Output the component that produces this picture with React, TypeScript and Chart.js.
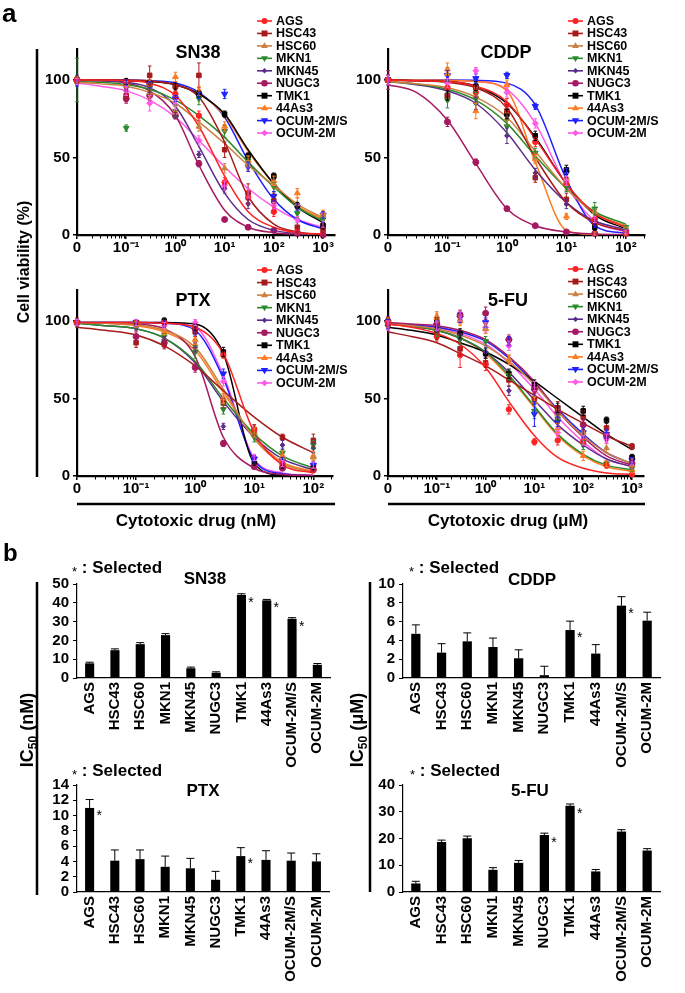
import React, { useEffect, useRef } from 'react';
import { Chart, registerables } from 'chart.js';

Chart.register(...registerables);

const PAGE_W = 685;
const PAGE_H = 993;
const FONT = "'Liberation Sans', Arial, Helvetica, sans-serif";
Chart.defaults.font.family = FONT;

// ---------------- shared categories / styles ----------------
const CELL_LINES = ['AGS', 'HSC43', 'HSC60', 'MKN1', 'MKN45', 'NUGC3', 'TMK1', '44As3', 'OCUM-2M/S', 'OCUM-2M'];
const LINE_COLORS = ['#FF2222', '#A61C1C', '#CC8040', '#2B8A2B', '#5C2C8C', '#A51A60', '#000000', '#FF7B22', '#2020FF', '#FF5AE8'];
const MARKER_STYLES = ['circle', 'rect', 'triangle', 'triangleDown', 'diamond', 'circle', 'rect', 'triangle', 'triangleDown', 'diamond'];
const MARKER_SIZES = [2.7, 3.2, 3.3, 3.3, 2.4, 3.0, 3.2, 3.4, 3.6, 3.0];

// x axis: the "0" dose is drawn at the 10^-2 position of the log axis
const ZERO_DOSE_POS = 0.01;
const XTICK_VALUES = [0.01, 0.1, 1, 10, 100, 1000];
const XTICK_LABELS = ['0', '10⁻¹', '10⁰', '10¹', '10²', '10³'];
const Y_TICKS_CURVE = [0, 50, 100];

// ---------------- SN38 (nM) ----------------
const CURVE_X_SN38 = [0.01, 0.03, 0.1, 0.3, 1, 3, 10, 30, 100, 300, 1000];
const CURVE_SN38 = [
  [100, 100, 99.5, 98, 90, 70, 38, 15, 5, 1.5, 0.5],
  [100, 100, 100, 99.5, 97, 89, 60, 25, 7, 2, 0.5],
  [98.5, 97.5, 96, 92, 85, 73, 59, 45, 32, 20, 11],
  [99, 98.5, 97, 94, 87, 77, 63, 47, 31, 18, 9],
  [100, 99.5, 98.5, 95, 83, 57, 27, 10, 3, 1, 0.3],
  [100, 99.5, 98, 93, 77, 45, 16, 5, 1.5, 0.5, 0.2],
  [100, 100, 99.5, 99, 97, 91, 78, 55, 33, 18, 8],
  [100, 100, 99.5, 99, 97, 91, 77, 54, 33, 19, 10],
  [100, 100, 100, 99.5, 98, 92, 76, 48, 23, 10, 4],
  [98, 96, 93, 87, 76, 61, 44, 30, 18, 10, 5],
];
const DOSE_SN38 = [0, 0.1, 0.3, 1, 3, 10, 30, 100, 300, 1000];
const POINTS_SN38 = [
  [100, 99, 97, 91, 77, 34, 24, 15, 2, 1],
  [100, 90, 103, 96, 103, 55, 27, 22, 5, 3],
  [99, 97, 92, 79, 70, 43, 45, 33, 20, 13],
  [100, 69, 95, 80, 88, 67, 48, 31, 14, 10],
  [100, 95, 95, 77, 52, 30, 20, 3, 1, 1],
  [100, 88, 90, 77, 46, 10, 5, 3, 1, 0],
  [100, 99, 98, 96, 91, 78, 51, 38, 19, 6],
  [100, 97, 98, 102, 93, 70, 48, 35, 27, 14],
  [98, 98, 97, 88, 90, 91, 44, 25, 18, 13],
  [99, 93, 85, 84, 61, 32, 27, 19, 10, 7],
];
const ERR_SN38 = [
  [2, 2, 2, 3, 3, 3, 4, 3, 1, 1],
  [2, 4, 6, 3, 8, 5, 6, 5, 3, 2],
  [2, 2, 3, 4, 3, 3, 3, 3, 4, 2],
  [14, 2, 3, 4, 4, 4, 3, 3, 3, 2],
  [3, 2, 3, 2, 2, 3, 3, 1, 1, 1],
  [2, 3, 3, 2, 2, 1, 1, 1, 1, 1],
  [2, 2, 2, 2, 2, 2, 2, 2, 2, 2],
  [2, 2, 2, 3, 3, 3, 3, 3, 3, 2],
  [2, 2, 2, 2, 2, 3, 3, 3, 2, 2],
  [2, 3, 5, 3, 3, 3, 3, 2, 2, 2],
];

// ---------------- CDDP (µM) ----------------
const CURVE_X_CDDP = [0.01, 0.03, 0.1, 0.3, 1, 3, 10, 30, 100];
const CURVE_CDDP = [
  [100, 99.5, 99, 96, 86, 62, 33, 14, 5],
  [100, 99.5, 98.5, 95, 82, 50, 21, 8, 2.5],
  [99, 97.5, 95, 89, 76, 54, 30, 14, 6],
  [99, 97.5, 94, 87, 72, 51, 30, 15, 7],
  [99, 97, 93, 85, 66, 42, 21, 9, 3.5],
  [97, 92, 74, 46, 17, 6, 2, 0.7, 0.2],
  [100, 99.5, 99, 96, 85, 63, 33, 13, 4],
  [100, 100, 99.8, 99, 93, 47, 3, 0.3, 0],
  [100, 100, 100, 99.8, 98, 84, 36, 6, 1],
  [100, 100, 99.8, 99, 94, 72, 32, 9, 2],
];
const DOSE_CDDP = [0, 0.1, 0.3, 1, 3, 10, 30, 100];
const POINTS_CDDP = [
  [100, 95, 92, 84, 60, 33, 10, 2],
  [100, 90, 95, 80, 37, 23, 8, 1],
  [100, 104, 90, 75, 50, 37, 15, 5],
  [100, 87, 88, 70, 53, 31, 17, 5],
  [100, 95, 85, 64, 40, 20, 8, 2],
  [100, 73, 47, 17, 6, 2, 1, 1],
  [100, 90, 96, 78, 64, 42, 5, 2],
  [100, 107, 80, 97, 49, 12, 1, 1],
  [100, 103, 101, 103, 83, 40, 7, 2],
  [100, 98, 106, 92, 72, 35, 10, 2],
];
const ERR_CDDP = [
  [3, 4, 3, 4, 3, 4, 2, 1],
  [3, 3, 3, 4, 3, 4, 2, 1],
  [3, 4, 5, 4, 3, 3, 2, 1],
  [3, 5, 4, 5, 3, 3, 4, 1],
  [3, 4, 4, 5, 3, 3, 2, 1],
  [6, 3, 2, 1, 1, 1, 1, 1],
  [3, 3, 3, 3, 3, 3, 2, 1],
  [3, 4, 5, 3, 3, 2, 1, 1],
  [3, 3, 3, 2, 2, 3, 2, 1],
  [3, 3, 2, 3, 3, 3, 2, 1],
];

// ---------------- PTX (nM) ----------------
const CURVE_X_PTX = [0.01, 0.03, 0.1, 0.3, 1, 3, 10, 30, 100];
const CURVE_PTX = [
  [99, 99, 99, 98.5, 96, 79, 28, 7, 2],
  [96, 94, 91, 84, 71, 55, 38, 25, 15],
  [99, 98.5, 97.5, 94, 83, 56, 24, 8, 2.5],
  [98.5, 97, 95, 89, 74, 50, 27, 13, 5],
  [98.5, 97, 95, 89, 73, 48, 25, 11, 4],
  [98.5, 98.5, 98, 95, 77, 25, 5, 1, 0.3],
  [99, 99, 99, 99, 98, 79, 8, 0.5, 0],
  [99, 98.5, 97, 93, 81, 54, 25, 9, 3],
  [99, 99, 99, 98.5, 94, 63, 10, 1.5, 0.3],
  [99, 99, 99, 99, 96, 65, 11, 2, 0.3],
];
const DOSE_PTX = [0, 0.1, 0.3, 1, 3, 10, 30, 100];
const POINTS_PTX = [
  [99, 99, 99, 96, 78, 30, 8, 4],
  [99, 86, 85, 93, 47, 30, 25, 23],
  [99, 98, 95, 85, 50, 28, 12, 12],
  [99, 97, 90, 80, 43, 25, 15, 20],
  [99, 96, 88, 83, 32, 28, 20, 18],
  [99, 90, 86, 70, 21, 6, 5, 4],
  [99, 99, 100, 96, 80, 8, 6, 5],
  [99, 98, 93, 88, 50, 28, 13, 13],
  [99, 99, 98, 94, 66, 11, 10, 7],
  [99, 99, 97, 99, 61, 12, 8, 7],
];
const ERR_PTX = [
  [2, 1, 1, 2, 2, 3, 2, 2],
  [3, 3, 3, 3, 3, 3, 2, 4],
  [2, 2, 2, 3, 3, 3, 2, 3],
  [2, 2, 2, 4, 3, 3, 3, 3],
  [2, 2, 2, 3, 2, 3, 3, 3],
  [2, 3, 3, 3, 2, 1, 1, 1],
  [2, 1, 2, 2, 3, 1, 1, 1],
  [2, 2, 2, 3, 3, 3, 3, 3],
  [2, 2, 2, 3, 3, 2, 2, 2],
  [2, 2, 2, 2, 3, 2, 2, 2],
];

// ---------------- 5-FU (µM) ----------------
const CURVE_X_5FU = [0.01, 0.03, 0.1, 0.3, 1, 3, 10, 30, 100, 300, 1000];
const CURVE_5FU = [
  [98, 96, 92, 85, 70, 48, 26, 12, 5, 2, 1],
  [93, 90, 86, 79, 71, 62, 52, 43, 34, 26, 19],
  [98, 97, 95, 91, 84, 74, 59, 42, 26, 15, 8],
  [98, 96.5, 94, 89, 80, 65, 45, 27, 14, 7, 4],
  [98, 96.5, 94, 89, 80, 67, 49, 33, 20, 11, 6],
  [99, 98, 97, 94, 88, 77, 61, 42, 25, 13, 7],
  [96, 94, 91, 86, 80, 72, 61, 50, 38, 27, 17],
  [98, 96.5, 94, 89, 79, 64, 44, 26, 13, 6, 3],
  [98.5, 97.5, 96, 93, 87, 76, 60, 43, 27, 15, 8],
  [98.5, 97.5, 95.5, 92, 85, 73, 56, 38, 22, 11, 6],
];
const DOSE_5FU = [0, 0.1, 0.3, 1, 3, 10, 30, 100, 300, 1000];
const POINTS_5FU = [
  [99, 90, 78, 72, 43, 22, 23, 22, 7, 1],
  [98, 92, 82, 73, 62, 50, 44, 38, 31, 19],
  [99, 103, 101, 95, 75, 48, 40, 28, 18, 7],
  [99, 93, 88, 87, 65, 42, 37, 20, 8, 5],
  [99, 96, 91, 80, 55, 50, 37, 22, 25, 7],
  [100, 98, 104, 105, 88, 56, 41, 33, 26, 8],
  [99, 99, 92, 79, 66, 59, 44, 42, 36, 12],
  [99, 102, 100, 95, 75, 48, 31, 13, 8, 4],
  [98, 97, 102, 99, 87, 40, 35, 28, 27, 10],
  [97, 97, 103, 96, 84, 58, 28, 23, 24, 9],
];
const ERR_5FU = [
  [3, 3, 8, 4, 3, 2, 3, 2, 2, 1],
  [3, 4, 4, 3, 4, 4, 4, 4, 4, 2],
  [3, 3, 3, 3, 3, 3, 3, 3, 3, 2],
  [3, 3, 3, 3, 3, 5, 3, 3, 2, 2],
  [3, 3, 3, 3, 3, 3, 3, 3, 3, 2],
  [3, 3, 3, 4, 3, 3, 3, 3, 3, 2],
  [3, 3, 3, 3, 3, 3, 3, 3, 2, 2],
  [3, 3, 3, 3, 3, 3, 3, 3, 2, 2],
  [3, 3, 3, 3, 3, 8, 3, 3, 3, 2],
  [3, 3, 3, 3, 3, 3, 3, 3, 3, 2],
];

// ---------------- Panel b: IC50 bars ----------------
const IC50_SN38 = [7.8, 14.8, 18.0, 22.8, 5.2, 2.8, 44.2, 41.3, 31.5, 7.0];
const IC50_SN38_ERR = [0.6, 0.7, 0.8, 0.8, 0.6, 0.5, 0.6, 0.5, 0.6, 0.7];
const SELECTED_SN38 = ['TMK1', '44As3', 'OCUM-2M/S'];

const IC50_CDDP = [4.7, 2.7, 3.9, 3.3, 2.1, 0.3, 5.1, 2.6, 7.7, 6.1];
const IC50_CDDP_ERR = [0.95, 0.95, 0.9, 0.95, 0.9, 0.95, 0.95, 0.95, 0.95, 0.9];
const SELECTED_CDDP = ['TMK1', 'OCUM-2M/S'];

const IC50_PTX = [11.0, 4.1, 4.3, 3.3, 3.1, 1.6, 4.7, 4.2, 4.1, 4.0];
const IC50_PTX_ERR = [1.1, 1.4, 1.2, 1.4, 1.3, 1.1, 1.1, 1.2, 1.0, 1.0];
const SELECTED_PTX = ['AGS', 'TMK1'];

const IC50_5FU = [3.2, 18.7, 20.1, 8.3, 10.9, 21.3, 32.2, 7.7, 22.6, 15.5];
const IC50_5FU_ERR = [0.8, 0.7, 0.8, 0.8, 0.9, 0.7, 0.7, 0.7, 0.7, 0.7];
const SELECTED_5FU = ['NUGC3', 'TMK1'];

// ---------------- helpers ----------------
function fnt(size: number, bold = true) {
  return `${bold ? 'bold ' : ''}${size}px ${FONT}`;
}

type Part = { t: string; size: number; bold?: boolean; dy?: number };
type TextItem = { parts: Part[]; x: number; y: number; align?: 'left' | 'center' | 'right'; rot?: number };

function drawRich(ctx: CanvasRenderingContext2D, it: TextItem) {
  ctx.save();
  ctx.translate(it.x, it.y);
  if (it.rot) ctx.rotate(it.rot);
  ctx.fillStyle = '#000';
  ctx.textBaseline = 'alphabetic';
  ctx.textAlign = 'left';
  let total = 0;
  const widths = it.parts.map((p) => {
    ctx.font = fnt(p.size, p.bold !== false);
    const w = ctx.measureText(p.t).width;
    total += w;
    return w;
  });
  let cx = it.align === 'center' ? -total / 2 : it.align === 'right' ? -total : 0;
  it.parts.forEach((p, k) => {
    ctx.font = fnt(p.size, p.bold !== false);
    ctx.fillText(p.t, cx, p.dy || 0);
    cx += widths[k];
  });
  ctx.restore();
}

function drawMarker(ctx: CanvasRenderingContext2D, style: string, x: number, y: number, r: number, color: string) {
  ctx.save();
  ctx.fillStyle = color;
  ctx.beginPath();
  if (style === 'circle') {
    ctx.arc(x, y, r, 0, Math.PI * 2);
  } else if (style === 'rect') {
    const s = r * 0.85;
    ctx.rect(x - s, y - s, 2 * s, 2 * s);
  } else if (style === 'triangle') {
    ctx.moveTo(x, y - r);
    ctx.lineTo(x + r * 0.95, y + r * 0.6);
    ctx.lineTo(x - r * 0.95, y + r * 0.6);
    ctx.closePath();
  } else if (style === 'triangleDown') {
    ctx.moveTo(x, y + r);
    ctx.lineTo(x + r * 0.95, y - r * 0.6);
    ctx.lineTo(x - r * 0.95, y - r * 0.6);
    ctx.closePath();
  } else {
    ctx.moveTo(x, y - r);
    ctx.lineTo(x + r, y);
    ctx.lineTo(x, y + r);
    ctx.lineTo(x - r, y);
    ctx.closePath();
  }
  ctx.fill();
  ctx.restore();
}

const extrasPlugin: any = {
  id: 'extras',
  afterDraw(chart: any, _args: any, opts: any) {
    const ctx: CanvasRenderingContext2D = chart.ctx;
    const xs = chart.scales.x;
    const ys = chart.scales.y;
    ctx.save();

    // minor ticks of the log axis
    if (opts.minorTicks && xs) {
      const lo = Math.floor(Math.log10(xs.min));
      const hi = Math.ceil(Math.log10(xs.max));
      ctx.strokeStyle = '#000';
      ctx.lineWidth = 1;
      ctx.beginPath();
      for (let n = lo; n <= hi; n++) {
        for (let k = 2; k <= 9; k++) {
          const v = k * Math.pow(10, n);
          if (v <= xs.min || v >= xs.max) continue;
          const px = Math.round(xs.getPixelForValue(v)) + 0.5;
          ctx.moveTo(px, chart.chartArea.bottom + 1);
          ctx.lineTo(px, chart.chartArea.bottom + 3.5);
        }
      }
      ctx.stroke();
    }

    // error bars
    chart.data.datasets.forEach((ds: any, di: number) => {
      if (!ds.errors) return;
      const meta = chart.getDatasetMeta(di);
      ctx.strokeStyle = ds.errColor || ds.borderColor || '#000';
      ctx.lineWidth = ds.errWidth || 1;
      meta.data.forEach((el: any, j: number) => {
        const e = ds.errors[j];
        if (e == null || e <= 0) return;
        const raw = ds.data[j];
        const v = typeof raw === 'number' ? raw : raw.y;
        const x = el.x;
        const y1 = ys.getPixelForValue(v + e);
        const y0 = ds.upperOnly ? ys.getPixelForValue(v) : ys.getPixelForValue(v - e);
        const c = ds.capHalf ?? 2;
        ctx.beginPath();
        ctx.moveTo(x, y0);
        ctx.lineTo(x, y1);
        ctx.moveTo(x - c, y1);
        ctx.lineTo(x + c, y1);
        if (!ds.upperOnly) {
          ctx.moveTo(x - c, y0);
          ctx.lineTo(x + c, y0);
        }
        ctx.stroke();
      });
    });

    // asterisks next to selected bars
    if (opts.stars) {
      const meta = chart.getDatasetMeta(0);
      const size = 14;
      ctx.fillStyle = '#000';
      ctx.font = fnt(size, false);
      ctx.textAlign = 'center';
      ctx.textBaseline = 'alphabetic';
      opts.stars.forEach((i: number) => {
        const el = meta.data[i];
        if (!el) return;
        ctx.fillText('*', el.x + el.width / 2 + 5, el.y + 4 + 0.58 * size);
      });
    }

    // legend (line + marker + name)
    if (opts.legend) {
      const { x, y, dy } = opts.legend;
      let row = 0;
      chart.data.datasets.forEach((ds: any) => {
        if (!ds.legendEntry) return;
        const yy = y + row * dy;
        row++;
        ctx.strokeStyle = ds.borderColor;
        ctx.lineWidth = 1.6;
        ctx.beginPath();
        ctx.moveTo(x, yy);
        ctx.lineTo(x + 15, yy);
        ctx.stroke();
        drawMarker(ctx, ds.markerStyle, x + 7.5, yy, ds.markerSize + 0.3, ds.borderColor);
        ctx.fillStyle = '#000';
        ctx.font = fnt(12.5);
        ctx.textAlign = 'left';
        ctx.textBaseline = 'middle';
        ctx.fillText(ds.label, x + 19, yy + 0.5);
      });
    }

    // free lines
    (opts.lines || []).forEach((ln: any) => {
      ctx.strokeStyle = '#000';
      ctx.lineWidth = ln.w;
      ctx.beginPath();
      ctx.moveTo(ln.x1, ln.y1);
      ctx.lineTo(ln.x2, ln.y2);
      ctx.stroke();
    });

    // texts
    (opts.texts || []).forEach((it: TextItem) => drawRich(ctx, it));
    ctx.restore();
  },
};

function centerText(t: string, x: number, yc: number, size: number, align: 'left' | 'center' = 'center'): TextItem {
  return { parts: [{ t, size }], x, y: yc + 0.36 * size, align };
}

const GLOBAL_TEXTS: TextItem[] = [
  { parts: [{ t: 'a', size: 26 }], x: 2, y: 22 },
  { parts: [{ t: 'b', size: 24 }], x: 3, y: 561 },
  { parts: [{ t: 'Cell viability (%)', size: 16 }], x: 23 + 0.36 * 16, y: 262, rot: -Math.PI / 2, align: 'center' },
  centerText('Cytotoxic drug (nM)', 196, 520, 17),
  centerText('Cytotoxic drug (μM)', 508, 520, 17),
  {
    parts: [{ t: 'IC', size: 18 }, { t: '50', size: 12, dy: 4 }, { t: ' (nM)', size: 18 }],
    x: 27 + 0.36 * 18, y: 730, rot: -Math.PI / 2, align: 'center',
  },
  {
    parts: [{ t: 'IC', size: 18 }, { t: '50', size: 12, dy: 4 }, { t: ' (μM)', size: 18 }],
    x: 357 + 0.36 * 18, y: 730, rot: -Math.PI / 2, align: 'center',
  },
];

const GLOBAL_LINES = [
  { x1: 37, y1: 49, x2: 37, y2: 477, w: 2.5 },
  { x1: 77, y1: 504, x2: 335, y2: 504, w: 2.5 },
  { x1: 388, y1: 504, x2: 645, y2: 504, w: 2.5 },
  { x1: 37, y1: 582, x2: 37, y2: 895, w: 2.5 },
  { x1: 370, y1: 582, x2: 370, y2: 892, w: 2.5 },
];

type Area = { l: number; t: number; r: number; b: number };

const CURVE_PANELS = [
  { title: 'SN38', area: { l: 77, t: 49, r: 335, b: 235 }, xMax: 1750, curveX: CURVE_X_SN38, curves: CURVE_SN38, dose: DOSE_SN38, points: POINTS_SN38, errs: ERR_SN38, legend: { x: 257, y: 21, dy: 12.45 }, titlePos: [198, 52] },
  { title: 'CDDP', area: { l: 388, t: 49, r: 645, b: 235 }, xMax: 210, curveX: CURVE_X_CDDP, curves: CURVE_CDDP, dose: DOSE_CDDP, points: POINTS_CDDP, errs: ERR_CDDP, legend: { x: 568, y: 21, dy: 12.45 }, titlePos: [506, 52] },
  { title: 'PTX', area: { l: 77, t: 290, r: 333, b: 476 }, xMax: 215, curveX: CURVE_X_PTX, curves: CURVE_PTX, dose: DOSE_PTX, points: POINTS_PTX, errs: ERR_PTX, legend: { x: 257, y: 270, dy: 12.55 }, titlePos: [193, 300] },
  { title: '5-FU', area: { l: 388, t: 290, r: 644, b: 476 }, xMax: 1760, curveX: CURVE_X_5FU, curves: CURVE_5FU, dose: DOSE_5FU, points: POINTS_5FU, errs: ERR_5FU, legend: { x: 568, y: 269, dy: 12.55 }, titlePos: [508, 300] },
];

const BAR_PANELS = [
  { title: 'SN38', values: IC50_SN38, errs: IC50_SN38_ERR, selected: SELECTED_SN38, yMax: 50, yStep: 10, area: { l: 77, t: 584, r: 330, b: 678 }, selectedPos: [72, 567], titlePos: [205, 578] },
  { title: 'CDDP', values: IC50_CDDP, errs: IC50_CDDP_ERR, selected: SELECTED_CDDP, yMax: 10, yStep: 2, area: { l: 403, t: 584, r: 660, b: 678 }, selectedPos: [409, 567], titlePos: [532, 579] },
  { title: 'PTX', values: IC50_PTX, errs: IC50_PTX_ERR, selected: SELECTED_PTX, yMax: 14, yStep: 2, area: { l: 77, t: 785, r: 329, b: 892 }, selectedPos: [72, 770], titlePos: [203, 790] },
  { title: '5-FU', values: IC50_5FU, errs: IC50_5FU_ERR, selected: SELECTED_5FU, yMax: 40, yStep: 10, area: { l: 403, t: 785, r: 660, b: 892 }, selectedPos: [410, 770], titlePos: [530, 790] },
];

function paddingFor(a: Area, yw: number, xh: number) {
  return { left: a.l - yw, top: a.t, right: PAGE_W - a.r, bottom: PAGE_H - a.b - xh };
}

const TICK_FONT = { family: FONT, size: 15, weight: 'bold' as const };

function makeCurveConfig(p: any, isFirst: boolean): any {
  const YW = 40;
  const XH = 30;
  const datasets: any[] = [];
  CELL_LINES.forEach((name, i) => {
    const ps = MARKER_STYLES[i];
    datasets.push({
      label: name + ' data',
      data: p.dose.map((d: number, j: number) => ({ x: d === 0 ? ZERO_DOSE_POS : d, y: p.points[i][j] })),
      showLine: false,
      pointStyle: ps === 'triangleDown' ? 'triangle' : ps === 'diamond' ? 'rectRot' : ps,
      pointRotation: ps === 'triangleDown' ? 180 : 0,
      pointRadius: MARKER_SIZES[i],
      pointBackgroundColor: LINE_COLORS[i],
      pointBorderColor: LINE_COLORS[i],
      pointBorderWidth: 1,
      borderColor: LINE_COLORS[i],
      backgroundColor: LINE_COLORS[i],
      errors: p.errs[i],
      capHalf: 1.8,
      clip: false,
      order: 0,
    });
  });
  CELL_LINES.forEach((name, i) => {
    datasets.push({
      label: name,
      data: p.curveX.map((x: number, j: number) => ({ x, y: p.curves[i][j] })),
      borderColor: LINE_COLORS[i],
      backgroundColor: LINE_COLORS[i],
      borderWidth: 1.5,
      pointRadius: 0,
      cubicInterpolationMode: 'monotone',
      fill: false,
      order: 1,
      legendEntry: true,
      markerStyle: MARKER_STYLES[i],
      markerSize: MARKER_SIZES[i],
    });
  });
  const texts: TextItem[] = [centerText(p.title, p.titlePos[0], p.titlePos[1], 18)];
  return {
    type: 'line',
    data: { datasets },
    options: {
      responsive: false,
      animation: false,
      devicePixelRatio: 1,
      events: [],
      layout: { autoPadding: false, padding: paddingFor(p.area, YW, XH) },
      plugins: {
        legend: { display: false },
        tooltip: { enabled: false },
        title: { display: false },
        extras: {
          minorTicks: true,
          legend: p.legend,
          texts: isFirst ? texts.concat(GLOBAL_TEXTS) : texts,
          lines: isFirst ? GLOBAL_LINES : [],
        },
      },
      scales: {
        x: {
          type: 'logarithmic',
          min: ZERO_DOSE_POS,
          max: p.xMax,
          afterBuildTicks: (s: any) => {
            s.ticks = XTICK_VALUES.filter((v) => v <= p.xMax).map((v) => ({ value: v, major: true }));
          },
          afterFit: (s: any) => {
            s.height = XH;
          },
          ticks: {
            autoSkip: false,
            maxRotation: 0,
            minRotation: 0,
            padding: 0,
            color: '#000',
            font: TICK_FONT,
            callback: (v: number) => {
              const k = XTICK_VALUES.findIndex((t) => Math.abs(t - v) / t < 1e-6);
              return k >= 0 ? XTICK_LABELS[k] : '';
            },
          },
          grid: { drawOnChartArea: false, drawTicks: true, tickLength: 4, color: '#000', lineWidth: 1.5 },
          border: { color: '#000', width: 2.2 },
        },
        y: {
          type: 'linear',
          min: 0,
          max: 120,
          afterBuildTicks: (s: any) => {
            s.ticks = Y_TICKS_CURVE.map((v) => ({ value: v }));
          },
          afterFit: (s: any) => {
            s.width = YW;
          },
          ticks: { autoSkip: false, padding: 3, color: '#000', font: TICK_FONT },
          grid: { drawOnChartArea: false, drawTicks: true, tickLength: 4, color: '#000', lineWidth: 1.5 },
          border: { color: '#000', width: 2.2 },
        },
      },
    },
    plugins: [extrasPlugin],
  };
}

function makeBarConfig(p: any): any {
  const YW = 40;
  const XH = 92;
  const stars = p.selected.map((s: string) => CELL_LINES.indexOf(s));
  const texts: TextItem[] = [
    {
      parts: [{ t: '*', size: 13, bold: false, dy: 3 }, { t: ' : Selected', size: 17 }],
      x: p.selectedPos[0],
      y: p.selectedPos[1] + 0.36 * 17,
    },
    centerText(p.title, p.titlePos[0], p.titlePos[1], 17),
  ];
  return {
    type: 'bar',
    data: {
      labels: CELL_LINES,
      datasets: [
        {
          label: 'IC50 ' + p.title,
          data: p.values,
          backgroundColor: '#000',
          borderWidth: 0,
          barPercentage: 0.36,
          categoryPercentage: 1,
          errors: p.errs,
          upperOnly: true,
          errColor: '#000',
          errWidth: 1,
          capHalf: 4,
        },
      ],
    },
    options: {
      responsive: false,
      animation: false,
      devicePixelRatio: 1,
      events: [],
      layout: { autoPadding: false, padding: paddingFor(p.area, YW, XH) },
      plugins: {
        legend: { display: false },
        tooltip: { enabled: false },
        title: { display: false },
        extras: { stars, texts },
      },
      scales: {
        x: {
          afterFit: (s: any) => {
            s.height = XH;
          },
          ticks: { autoSkip: false, minRotation: 90, maxRotation: 90, padding: 4, color: '#000', font: TICK_FONT },
          grid: { display: false, drawTicks: false },
          border: { color: '#000', width: 1.2 },
        },
        y: {
          min: 0,
          max: p.yMax,
          afterFit: (s: any) => {
            s.width = YW;
          },
          ticks: { stepSize: p.yStep, autoSkip: false, padding: 4, color: '#000', font: TICK_FONT },
          grid: { drawOnChartArea: false, drawTicks: true, tickLength: 4, color: '#000', lineWidth: 1 },
          border: { color: '#000', width: 1.2 },
        },
      },
    },
    plugins: [extrasPlugin],
  };
}

function ChartCanvas({ make }: { make: () => any }) {
  const ref = useRef<HTMLCanvasElement>(null);
  useEffect(() => {
    if (!ref.current) return;
    const chart = new Chart(ref.current, make());
    return () => chart.destroy();
  }, []);
  return (
    <canvas
      ref={ref}
      width={PAGE_W}
      height={PAGE_H}
      style={{ position: 'absolute', left: 0, top: 0, width: PAGE_W, height: PAGE_H }}
    />
  );
}

export default function App() {
  const makers: (() => any)[] = [
    ...CURVE_PANELS.map((p, i) => () => makeCurveConfig(p, i === 0)),
    ...BAR_PANELS.map((p) => () => makeBarConfig(p)),
  ];
  return (
    <div
      style={{
        position: 'absolute',
        left: 0,
        top: 0,
        width: PAGE_W,
        height: PAGE_H,
        background: '#fff',
        overflow: 'hidden',
      }}
    >
      {makers.map((m, i) => (
        <ChartCanvas key={i} make={m} />
      ))}
    </div>
  );
}
